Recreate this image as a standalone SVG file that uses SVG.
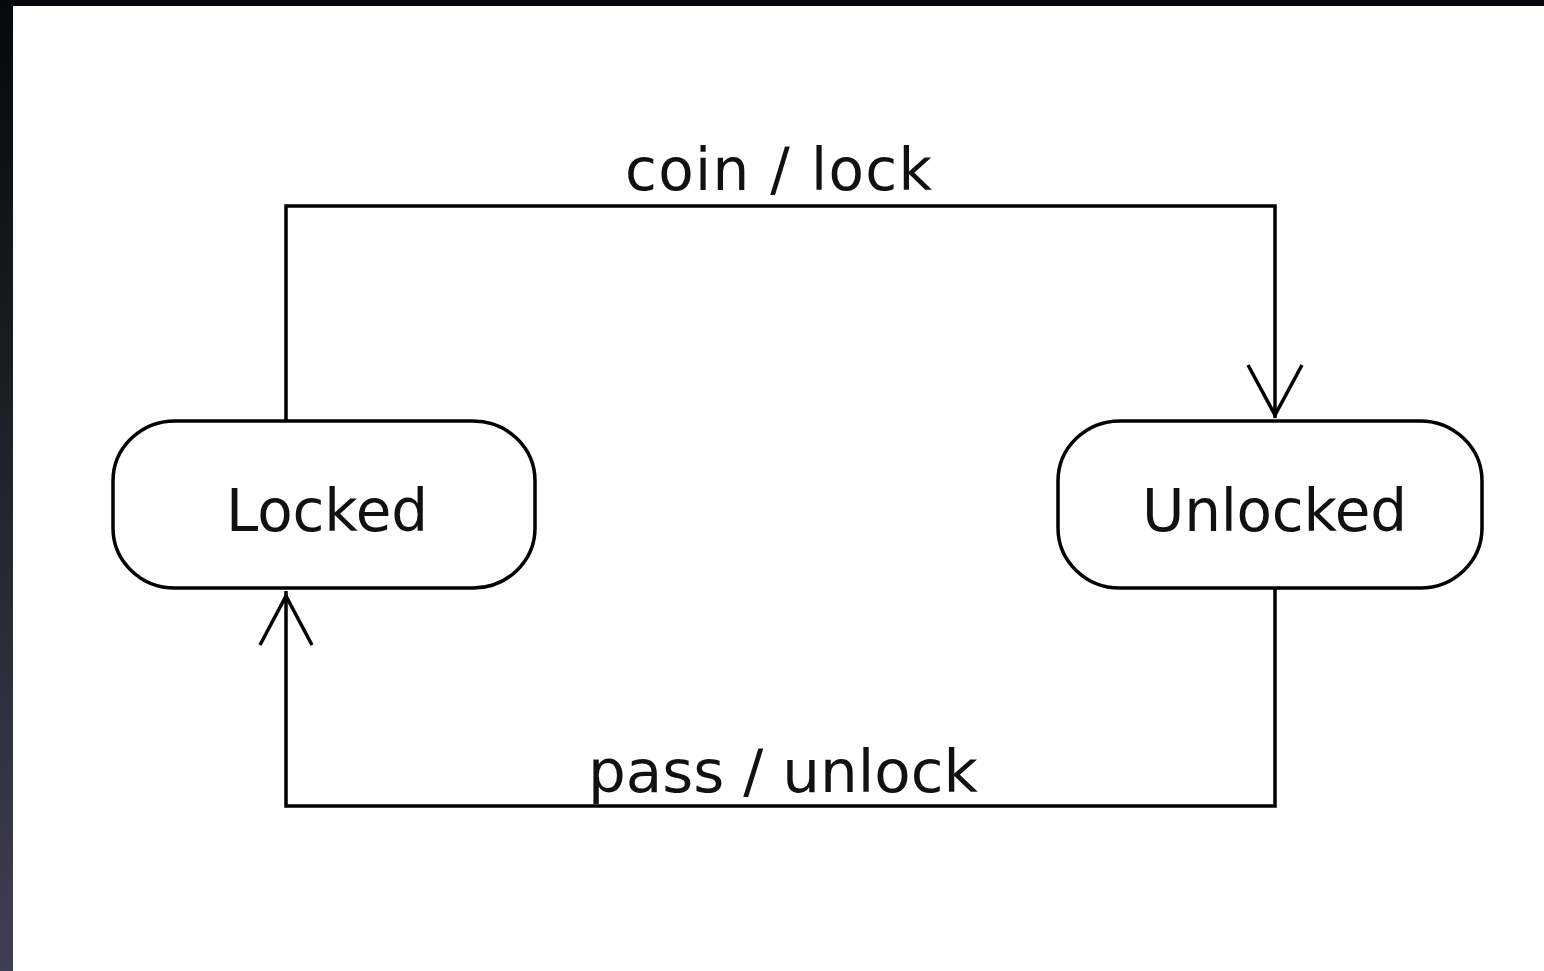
<svg xmlns="http://www.w3.org/2000/svg" width="1544" height="971" viewBox="0 0 1544 971">
  <defs>
    <linearGradient id="edge" x1="0" y1="0" x2="0" y2="1">
      <stop offset="0" stop-color="#07080b"/>
      <stop offset="0.4" stop-color="#1c1e26"/>
      <stop offset="1" stop-color="#413f52"/>
    </linearGradient>
    <style>
      .state { fill: #ffffff; stroke: #000000; stroke-width: 3.5; }
      .wire { fill: none; stroke: #000000; stroke-width: 3.5; }
      .head { fill: none; stroke: #000000; stroke-width: 3.5; stroke-linejoin: miter; }
      .label { font-family: "DejaVu Sans", "Liberation Sans", sans-serif; font-size: 58px; fill: #111111; }
    </style>
  </defs>

  <!-- canvas and frame -->
  <rect x="0" y="0" width="1544" height="971" fill="#ffffff"/>
  <rect x="0" y="0" width="1544" height="6" fill="#06070a"/>
  <rect x="0" y="0" width="13" height="971" fill="url(#edge)"/>

  <!-- transitions -->
  <g id="connectors">
    <polyline class="wire" points="286,421 286,206 1275,206 1275,418"/>
    <polyline class="head" points="1248,365 1275,415 1302,365"/>
    <text class="label" x="625" y="190" textLength="307" lengthAdjust="spacing">coin / lock</text>

    <polyline class="wire" points="1275,588 1275,806 286,806 286,591"/>
    <polyline class="head" points="260,645 286,596 312,645"/>
    <text class="label" x="588" y="792" textLength="390" lengthAdjust="spacingAndGlyphs">pass / unlock</text>
  </g>

  <!-- states -->
  <g id="locked">
    <rect class="state" x="113" y="421" width="422" height="167" rx="62" ry="60"/>
    <text class="label" x="226" y="531" textLength="202" lengthAdjust="spacing">Locked</text>
  </g>
  <g id="unlocked">
    <rect class="state" x="1058" y="421" width="424" height="167" rx="62" ry="60"/>
    <text class="label" x="1142" y="531" textLength="265" lengthAdjust="spacing">Unlocked</text>
  </g>
</svg>
